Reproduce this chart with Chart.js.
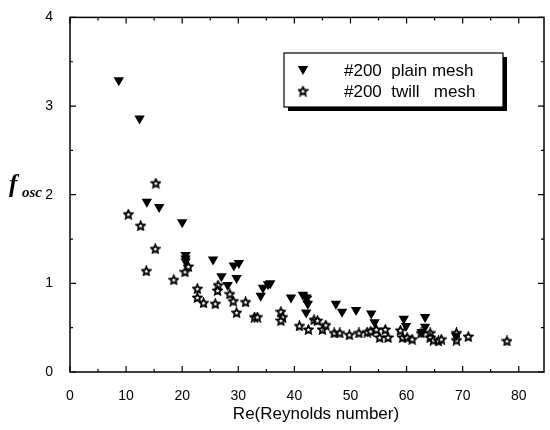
<!DOCTYPE html>
<html>
<head>
<meta charset="utf-8">
<script src="https://cdn.jsdelivr.net/npm/chart.js@4.4.1/dist/chart.umd.min.js"></script>
<style>
  html, body { margin: 0; padding: 0; background: #fff; }
  #wrap { width: 550px; height: 430px; }
</style>
</head>
<body>
<div id="wrap"><canvas id="chart"></canvas></div>
<script>
// tick labels
const X_TICKS = [0, 10, 20, 30, 40, 50, 60, 70, 80];
const X_MINOR = [5, 15, 25, 35, 45, 55, 65, 75];
const Y_TICKS = [0, 1, 2, 3, 4];
const Y_MINOR = [0.5, 1.5, 2.5, 3.5];

// #200 plain mesh
const plainRe = [8.7, 12.4, 13.7, 15.9, 20.0, 20.6, 20.6, 20.6, 25.5, 27.0, 28.1, 29.2, 30.1, 29.7,
  34.0, 34.4, 35.3, 35.7, 39.4, 41.5, 42.1, 42.4, 42.1, 47.4, 48.5, 51.0, 53.7, 54.3,
  59.5, 59.9, 63.3, 63.3, 62.7, 68.8];
const plainF = [3.29, 2.86, 1.92, 1.86, 1.69, 1.32, 1.28, 1.25, 1.27, 1.08, 0.98, 1.20, 1.23, 1.06,
  0.86, 0.95, 0.99, 1.00, 0.84, 0.87, 0.84, 0.77, 0.67, 0.77, 0.68, 0.70, 0.66, 0.56,
  0.60, 0.52, 0.62, 0.51, 0.45, 0.41];

// #200 twill mesh
const twillRe = [10.4, 12.6, 13.6, 15.3, 15.2, 18.5, 21.1, 20.5, 22.7, 22.7, 23.8, 25.9, 26.4, 26.3,
  28.5, 29.1, 29.7, 31.3, 32.9, 33.4, 37.6, 37.9, 37.6, 40.9, 42.2, 42.5, 43.5, 44.1,
  45.0, 45.6, 47.1, 48.1, 49.8, 51.5, 53.0, 53.6, 54.6, 55.2, 56.2, 56.7, 58.9, 59.3,
  60.1, 61.0, 62.6, 64.2, 64.2, 64.8, 65.7, 66.2, 68.9, 68.9, 71.0, 77.9];
const twillF = [1.78, 1.65, 1.14, 2.13, 1.39, 1.04, 1.19, 1.13, 0.94, 0.84, 0.78, 0.77, 0.98, 0.92,
  0.88, 0.80, 0.67, 0.79, 0.62, 0.62, 0.68, 0.62, 0.58, 0.52, 0.84, 0.48, 0.59, 0.58,
  0.48, 0.53, 0.44, 0.44, 0.42, 0.44, 0.45, 0.46, 0.48, 0.39, 0.48, 0.39, 0.47, 0.39,
  0.39, 0.37, 0.44, 0.44, 0.39, 0.36, 0.35, 0.37, 0.44, 0.36, 0.40, 0.35];

const FONT = '"Liberation Sans", Arial, sans-serif';
const SERIF = '"Liberation Serif", "Times New Roman", serif';

// hollow five-point star marker
function makeStar(size) {
  const c = document.createElement('canvas');
  c.width = size; c.height = size;
  const g = c.getContext('2d');
  const cx = size / 2, cy = size / 2 + 0.4, ro = size / 2 - 1.1, ri = ro * 0.47;
  g.beginPath();
  for (let i = 0; i < 10; i++) {
    const r = i % 2 ? ri : ro;
    const a = -Math.PI / 2 + i * Math.PI / 5;
    g[i ? 'lineTo' : 'moveTo'](cx + r * Math.cos(a), cy + r * Math.sin(a));
  }
  g.closePath();
  g.fillStyle = '#fff';
  g.fill();
  g.lineWidth = 1.8;
  g.strokeStyle = '#000';
  g.stroke();
  return c;
}
const STAR = makeStar(11);

function drawTri(ctx, x, y, r) {
  ctx.beginPath();
  ctx.moveTo(x - r * 0.87, y - r * 0.5);
  ctx.lineTo(x + r * 0.87, y - r * 0.5);
  ctx.lineTo(x, y + r);
  ctx.closePath();
  ctx.fillStyle = '#000';
  ctx.fill();
}

const framePlugin = {
  id: 'frame',
  afterDraw(chart) {
    const { ctx, chartArea: a, scales: { x, y } } = chart;
    ctx.save();
    ctx.strokeStyle = '#000';
    ctx.lineWidth = 1.5;
    ctx.strokeRect(a.left, a.top, a.right - a.left, a.bottom - a.top);

    // inward ticks on all four sides
    ctx.lineWidth = 1.2;
    ctx.beginPath();
    const tick = (vals, len) => {
      vals.forEach(v => {
        const px = x.getPixelForValue(v);
        ctx.moveTo(px, a.bottom); ctx.lineTo(px, a.bottom - len);
        ctx.moveTo(px, a.top); ctx.lineTo(px, a.top + len);
      });
    };
    tick(X_TICKS, 6);
    tick(X_MINOR, 3);
    const ytick = (vals, len) => {
      vals.forEach(v => {
        const py = y.getPixelForValue(v);
        ctx.moveTo(a.left, py); ctx.lineTo(a.left + len, py);
        ctx.moveTo(a.right, py); ctx.lineTo(a.right - len, py);
      });
    };
    ytick(Y_TICKS, 6);
    ytick(Y_MINOR, 3);
    ctx.stroke();

    // axis titles
    ctx.fillStyle = '#000';
    ctx.textBaseline = 'alphabetic';
    ctx.textAlign = 'center';
    ctx.font = '17px ' + FONT;
    ctx.fillText('Re(Reynolds number)', 316, 419);
    ctx.textAlign = 'left';
    ctx.font = 'italic bold 25px ' + SERIF;
    ctx.fillText('f', 9, 192);
    ctx.font = 'italic bold 15px ' + SERIF;
    ctx.fillText('osc', 22, 197);

    // legend box with shadow
    const bx = 284, by = 53, bw = 219, bh = 54;
    ctx.fillStyle = '#000';
    ctx.fillRect(bx + 4, by + 4, bw, bh);
    ctx.fillStyle = '#fff';
    ctx.fillRect(bx, by, bw, bh);
    ctx.lineWidth = 1.2;
    ctx.strokeRect(bx, by, bw, bh);
    drawTri(ctx, 303, 69, 6);
    ctx.drawImage(STAR, 303 - 5.5, 91 - 5.5);
    ctx.fillStyle = '#000';
    ctx.font = '17px ' + FONT;
    ctx.textBaseline = 'middle';
    ctx.fillText(chart.data.datasets[0].label, 344, 71);
    ctx.fillText(chart.data.datasets[1].label, 344, 92);
    ctx.restore();
  }
};

new Chart(document.getElementById('chart'), {
  type: 'scatter',
  data: {
    datasets: [
      {
        label: '#200  plain mesh',
        data: plainRe.map((v, i) => ({ x: v, y: plainF[i] })),
        pointStyle: 'triangle',
        rotation: 180,
        radius: 6,
        backgroundColor: '#000',
        borderColor: '#000',
        borderWidth: 0,
      },
      {
        label: '#200  twill   mesh',
        data: twillRe.map((v, i) => ({ x: v, y: twillF[i] })),
        pointStyle: STAR,
        radius: 5,
      },
    ]
  },
  options: {
    responsive: true,
    maintainAspectRatio: false,
    animation: false,
    layout: { padding: { top: 13, right: 2, left: 0, bottom: 0 } },
    plugins: { legend: { display: false }, tooltip: { enabled: false } },
    scales: {
      x: {
        type: 'linear', min: 0, max: 84.5,
        grid: { display: false }, border: { display: false },
        afterBuildTicks: s => { s.ticks = X_TICKS.map(v => ({ value: v })); },
        afterFit: s => { s.height = 58; },
        ticks: { color: '#000', font: { family: FONT, size: 14 }, padding: 8, maxRotation: 0 },
      },
      y: {
        type: 'linear', min: 0, max: 4,
        grid: { display: false }, border: { display: false },
        afterBuildTicks: s => { s.ticks = Y_TICKS.map(v => ({ value: v })); },
        afterFit: s => { s.width = 70; },
        ticks: { color: '#000', font: { family: FONT, size: 14 }, padding: 9 },
      },
    }
  },
  plugins: [framePlugin]
});
</script>
</body>
</html>
